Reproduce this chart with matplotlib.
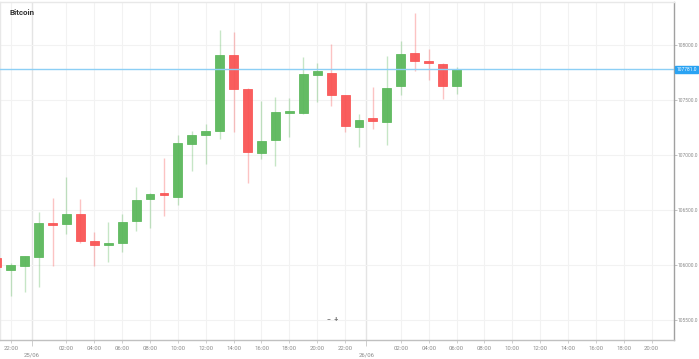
import numpy as np
import matplotlib
matplotlib.use("Agg")
import matplotlib.pyplot as plt

# hours relative to 25/06 00:00
hours = list(range(-3, 31))
opens = [106063, 105955, 105994, 106076, 106380, 106370, 106461, 106221, 106179, 106203,
         106397, 106597, 106648, 106621, 107097, 107179, 107221, 107906, 107600, 107021,
         107133, 107385, 107382, 107724, 107751, 107545, 107258, 107333, 107300, 107624,
         107930, 107857, 107827, 107627]
closes = [105982, 106000, 106079, 106385, 106368, 106464, 106218, 106179, 106197, 106394,
          106588, 106645, 106638, 107112, 107179, 107215, 107912, 107597, 107024, 107127,
          107388, 107400, 107736, 107761, 107545, 107267, 107318, 107312, 107612, 107918,
          107855, 107836, 107630, 107782]
highs = [106100, 106018, 106085, 106485, 106606, 106797, 106600, 106303, 106394, 106464,
         106706, 106657, 106976, 107182, 107221, 107282, 108136, 108121, 107610, 107491,
         107530, 107515, 107894, 107839, 108009, 107550, 107373, 107615, 107900, 108039,
         108288, 107964, 107840, 107803]
lows = [105950, 105720, 105752, 105803, 105994, 106282, 106203, 105994, 106030, 106121,
        106312, 106334, 106446, 106545, 106855, 106915, 107148, 107206, 106748, 106967,
        106903, 107161, 107378, 107485, 107445, 107206, 107070, 107233, 107088, 107542,
        107766, 107682, 107509, 107555]

tick_hours = [-2, 2, 4, 6, 8, 10, 12, 14, 16, 18, 20, 22, 26, 28, 30, 32, 34, 36, 38, 40, 42, 44]
tick_labels = ["22:00", "02:00", "04:00", "06:00", "08:00", "10:00", "12:00", "14:00", "16:00",
               "18:00", "20:00", "22:00", "02:00", "04:00", "06:00", "08:00", "10:00", "12:00",
               "14:00", "16:00", "18:00", "20:00"]
day_hours = [-0.47, 23.53]
day_labels = ["25/06", "26/06"]
price_levels = [105500, 106000, 106500, 107000, 107500, 108000]
last_price = 107781.0

GREEN = "#5cb85c"
RED = "#f95555"
GREY = "#8a8a8a"

plt.rcParams["font.family"] = ["Roboto", "DejaVu Sans"]
fig = plt.figure(figsize=(6.99, 3.59), dpi=100)
ax = fig.add_axes([0.0, 0.053, 0.964, 0.941])

o = np.array(opens)
c = np.array(closes)
up = c >= o
colors = np.where(up, GREEN, RED)
bottoms = np.minimum(o, c)
heights = np.maximum(np.abs(c - o), 18)

ax.vlines(hours, lows, highs, colors=colors, linewidth=1.0, alpha=0.35, zorder=2)
ax.bar(hours, heights, bottom=bottoms, width=0.64, color=colors, edgecolor=colors,
       linewidth=0.6, alpha=0.95, zorder=3)

ax.set_xlim(-2.77, 45.6)
ax.set_ylim(105318, 108391)

ax.set_xticks(tick_hours)
ax.set_xticklabels(tick_labels)
ax.set_xticks(day_hours, minor=True)
ax.set_xticklabels(day_labels, minor=True)
ax.tick_params(axis="x", which="major", length=2.5, width=0.5, color="#bbbbbb",
               labelsize=4.3, labelcolor=GREY, pad=1.5)
ax.tick_params(axis="x", which="minor", length=4, width=0.5, color="#bbbbbb",
               labelsize=4.3, labelcolor=GREY, pad=5)

ax.yaxis.tick_right()
ax.set_yticks(price_levels)
ax.set_yticklabels(["%.1f" % p for p in price_levels])
ax.tick_params(axis="y", length=2, width=0.5, color="#aaaaaa", labelsize=3.5,
               labelcolor=GREY, pad=0.8)

for h in tick_hours:
    ax.axvline(h, color="#f2f2f2", linewidth=0.8, zorder=0)
for h in day_hours:
    ax.axvline(h, color="#e4e4e4", linewidth=1.0, zorder=0)
for p in price_levels:
    ax.axhline(p, color="#f2f2f2", linewidth=0.8, zorder=0)

for side in ["top", "left"]:
    ax.spines[side].set_color("#e8e8e8")
    ax.spines[side].set_linewidth(1.0)
ax.spines["right"].set_color("#a0a0a0")
ax.spines["right"].set_linewidth(1.0)
ax.spines["bottom"].set_color("#c0c0c0")
ax.spines["bottom"].set_linewidth(1.0)

ax.axhline(last_price, color="#8ccff5", linewidth=1.0, zorder=4)
ax.annotate("%.1f" % last_price, xy=(1.0, last_price), xycoords=("axes fraction", "data"),
            xytext=(1.8, 0), textcoords="offset points", va="center", ha="left",
            fontsize=3.5, color="white",
            bbox=dict(boxstyle="square,pad=0.2", fc="#2aa3f3", ec="#2aa3f3"),
            annotation_clip=False)

fig.text(0.014, 0.966, "Bitcoin", fontsize=5.8, fontweight="bold", color="#333333",
         va="center", ha="left")
ax.text(0.493, 0.058, "\u2212  +", transform=ax.transAxes, fontsize=5, color="#777777",
        ha="center", va="center", fontweight="bold")

fig.savefig("out.png", dpi=100)
